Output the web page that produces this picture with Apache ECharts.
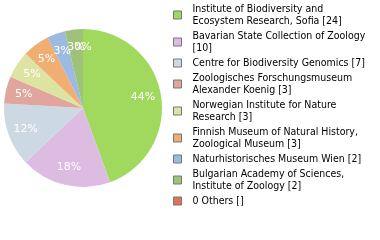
<!DOCTYPE html>
<html>
<head>
<meta charset="utf-8">
<script src="https://cdn.jsdelivr.net/npm/echarts@6/dist/echarts.min.js"></script>
<style>
    html, body { margin: 0; padding: 0; background: #fff; }
    #chart { width: 380px; height: 240px; }
</style>
</head>
<body>
<div id="chart"></div>
<script>
const names = [
    'Institute of Biodiversity and\nEcosystem Research, Sofia [24]',
    'Bavarian State Collection of Zoology\n[10]',
    'Centre for Biodiversity Genomics [7]',
    'Zoologisches Forschungsmuseum\nAlexander Koenig [3]',
    'Norwegian Institute for Nature\nResearch [3]',
    'Finnish Museum of Natural History,\nZoological Museum [3]',
    'Naturhistorisches Museum Wien [2]',
    'Bulgarian Academy of Sciences,\nInstitute of Zoology [2]',
    '0 Others []'
];
const values = [24, 10, 7, 3, 3, 3, 2, 2, 0];
const colors = ['#a0d95e', '#dcbce0', '#ccd9e5', '#e0a59c', '#dde3a1', '#f0ae73', '#9dbbe0', '#9fc27b', '#df7258'];

const total = values.reduce((a, b) => a + b, 0);

function createPieChart() {
    let chartDom = document.getElementById('chart');
    let myChart = echarts.init(chartDom);
    let option;

    let data = [];
    for (let i = 0; i < names.length; i++) {
        data.push({ name: names[i], value: values[i] });
    }

    const pieOptions = {
        type: 'pie',
        center: [83, 108],
        startAngle: 90,
        clockwise: true,
        animation: false,
        silent: true,
        avoidLabelOverlap: false,
        minShowLabelAngle: 0,
        labelLayout: { hideOverlap: false },
        data
    };

    option = {
        color: colors,
        legend: {
            orient: 'vertical',
            left: 168,
            top: -2,
            itemWidth: 8,
            itemHeight: 8,
            itemGap: 3,
            icon: 'rect',
            itemStyle: { borderColor: '#777', borderWidth: 1 },
            textStyle: {
                fontFamily: 'DejaVu Sans Condensed',
                fontSize: 10.5,
                lineHeight: 12,
                color: '#000',
                padding: [0, 0, 0, 6]
            },
            data: names
        },
        series: [
            {
                ...pieOptions,
                radius: [0, 79],
                label: { show: false },
                labelLine: { show: false }
            },
            {
                // transparent ring, only used to place the percent labels
                ...pieOptions,
                radius: [37, 79],
                itemStyle: { color: 'rgba(0,0,0,0)' },
                label: {
                    show: true,
                    position: 'inside',
                    color: '#fff',
                    fontFamily: 'DejaVu Sans',
                    fontSize: 11,
                    formatter: (p) => Math.floor(p.value / total * 100) + '%'
                },
                labelLine: { show: false }
            }
        ]
    };

    option && myChart.setOption(option);
}

createPieChart();
</script>
</body>
</html>
